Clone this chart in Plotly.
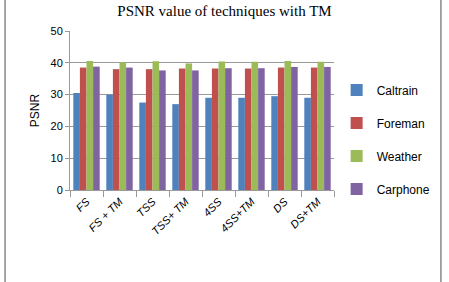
import plotly.graph_objects as go

categories = ["FS", "FS + TM", "TSS", "TSS+ TM", "4SS", "4SS+TM", "DS", "DS+TM"]
caltrain = [30.5, 30.0, 27.5, 27.0, 29.0, 29.0, 29.5, 29.0]
foreman = [38.5, 38.0, 38.0, 38.2, 38.2, 38.2, 38.5, 38.5]
weather = [40.6, 40.2, 40.5, 39.8, 40.4, 40.3, 40.6, 40.3]
carphone = [38.8, 38.5, 37.6, 37.6, 38.3, 38.3, 38.7, 38.7]
y_ticks = [0, 10, 20, 30, 40, 50]

series = [("Caltrain", caltrain, "#4F81BD"), ("Foreman", foreman, "#C0504D"),
          ("Weather", weather, "#9BBB59"), ("Carphone", carphone, "#8064A2")]

fig = go.Figure()
for name, vals, col in series:
    fig.add_trace(go.Bar(x=categories, y=vals, name=name, legendgroup=name,
                         marker=dict(color=col, line=dict(width=0))))

font_fam = "Liberation Sans Narrow, Liberation Sans, Arial, sans-serif"
fig.update_layout(
    width=449, height=282,
    margin=dict(l=70, r=115, t=31, b=92, autoexpand=False),
    paper_bgcolor="white", plot_bgcolor="white",
    barmode="group", bargap=0.2, bargroupgap=0,
    title=dict(text="PSNR value of techniques with TM", x=0.5, xanchor="center",
               y=0.98, yanchor="top",
               font=dict(family="Liberation Serif, Times New Roman, serif", size=15, color="black")),
    font=dict(family=font_fam, size=11, color="black"),
    legend=dict(x=1.01, y=0.72, xanchor="left", yanchor="top", traceorder="grouped",
                tracegroupgap=14, font=dict(size=12), itemwidth=30, bgcolor="rgba(0,0,0,0)"),
    showlegend=True,
)
fig.update_yaxes(range=[0, 50], tickvals=y_ticks, showgrid=True, gridcolor="#9a9a9a",
                 gridwidth=1, showline=True, linecolor="#9a9a9a", ticks="outside",
                 ticklen=4, tickcolor="#9a9a9a", zeroline=False,
                 title=dict(text="PSNR", font=dict(size=12), standoff=8),
                 tickfont=dict(size=11))
fig.update_xaxes(showline=True, linecolor="#9a9a9a", ticks="outside", ticklen=6,
                 tickcolor="#9a9a9a", tickson="boundaries", tickangle=-45,
                 tickfont=dict(size=11, style="italic"))
for xp in (-0.246, 1.405):
    fig.add_shape(type="line", xref="paper", yref="paper", x0=xp, x1=xp,
                  y0=-0.6, y1=1.2, line=dict(color="#888888", width=1.5))
fig.write_html("out.html")
